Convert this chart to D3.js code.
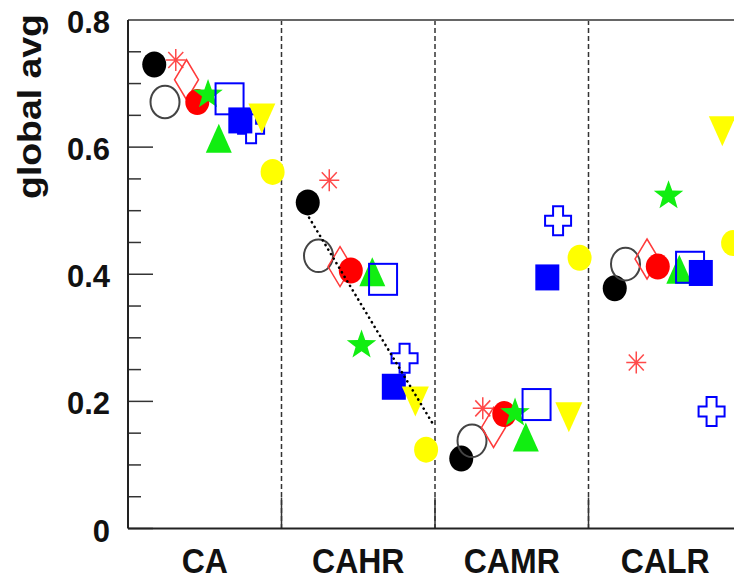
<!DOCTYPE html>
<html><head><meta charset="utf-8">
<script src="https://cdn.jsdelivr.net/npm/d3@7"></script>
<style>
body{margin:0;background:#fff}
svg{display:block}
text{font-family:"Liberation Sans",Arial,sans-serif;font-weight:bold;fill:#111}
</style>
</head><body>
<svg id="chart" width="734" height="576"></svg>
<script>
// ---- data ----
const categories = ["CA", "CAHR", "CAMR", "CALR"];
const yTickValues = [0, 0.2, 0.4, 0.6, 0.8];
const yTickLabels = ["0", "0.2", "0.4", "0.6", "0.8"];
const yMinorTicks = [0.05, 0.1, 0.15, 0.25, 0.3, 0.35, 0.45, 0.5, 0.55, 0.65, 0.7, 0.75];
const yAxisTitle = "global avg";

const seriesNames = ["s1", "s2", "s3", "s4", "s5", "s6", "s7", "s8", "s9", "s10", "s11", "s12"];
const s1  = [0.730, 0.513, 0.110, 0.378]; // black filled circle
const s2  = [0.671, 0.429, 0.138, 0.416]; // open circle
const s3  = [0.737, 0.548, 0.189, 0.261]; // red asterisk
const s4  = [0.706, 0.412, 0.159, 0.424]; // red open diamond
const s5  = [0.671, 0.406, 0.180, 0.412]; // red filled circle
const s6  = [0.685, 0.291, 0.184, 0.526]; // green star
const s7  = [0.614, 0.404, 0.144, 0.408]; // green triangle up
const s8  = [0.676, 0.392, 0.195, 0.411]; // blue open square
const s9  = [0.642, 0.223, 0.395, 0.402]; // blue filled square
const s10 = [0.629, 0.268, 0.484, 0.184]; // blue open cross
const s11 = [0.645, 0.200, 0.175, 0.625]; // yellow triangle down
const s12 = [0.561, 0.124, 0.426, 0.449]; // yellow filled circle
const seriesValues = [s1, s2, s3, s4, s5, s6, s7, s8, s9, s10, s11, s12];

// dotted trend line (category-axis units, value)
const trendX = [1.18, 1.98];
const trendY = [0.489, 0.167];

// ---- styles ----
const seriesStyle = {
  s1:  {shape: "fcircle", color: "#000000"},
  s2:  {shape: "ocircle", color: "#444444"},
  s3:  {shape: "asterisk", color: "#ff4a4a"},
  s4:  {shape: "diamond", color: "#ff3a3a"},
  s5:  {shape: "fcircle", color: "#ff0000"},
  s6:  {shape: "star", color: "#11ee11"},
  s7:  {shape: "triUp", color: "#11ee11"},
  s8:  {shape: "osquare", color: "#0000ff"},
  s9:  {shape: "fsquare", color: "#0000ff"},
  s10: {shape: "cross", color: "#0000ff"},
  s11: {shape: "triDown", color: "#ffff00"},
  s12: {shape: "fcircle", color: "#ffff00"}
};

// ---- scales ----
const svg = d3.select("#chart");
const mLeft = 128, mTop = 20, mBottom = 528.5, mRight = 742;
const x = d3.scaleLinear().domain([0, categories.length]).range([mLeft, mRight]);
const y = d3.scaleLinear().domain([0, 0.8]).range([mBottom, mTop]);
const step = x(1) - x(0);
const inner = d3.scalePoint().domain(seriesNames).range([0.171 * step, 0.942 * step]);

// ---- frame, separators ----
const frame = svg.append("g");
frame.selectAll("line.sep").data(d3.range(1, categories.length)).join("line")
  .attr("class", "sep")
  .attr("x1", d => x(d)).attr("x2", d => x(d))
  .attr("y1", mTop).attr("y2", mBottom)
  .attr("stroke", "#333").attr("stroke-width", 1.5).attr("stroke-dasharray", "5,3");
frame.selectAll("line.bt").data(d3.range(1, categories.length)).join("line")
  .attr("class", "bt")
  .attr("x1", d => x(d)).attr("x2", d => x(d))
  .attr("y1", mBottom).attr("y2", mBottom - 31)
  .attr("stroke", "#333").attr("stroke-width", 1.5);
frame.selectAll("line.ymaj").data(yTickValues).join("line")
  .attr("class", "ymaj")
  .attr("x1", mLeft).attr("x2", mLeft + 25)
  .attr("y1", d => y(d)).attr("y2", d => y(d))
  .attr("stroke", "#333").attr("stroke-width", 1.5);
frame.selectAll("line.ymin").data(yMinorTicks).join("line")
  .attr("class", "ymin")
  .attr("x1", mLeft).attr("x2", mLeft + 13)
  .attr("y1", d => y(d)).attr("y2", d => y(d))
  .attr("stroke", "#333").attr("stroke-width", 1.5);
frame.append("line").attr("x1", mLeft).attr("x2", mRight).attr("y1", mTop).attr("y2", mTop)
  .attr("stroke", "#666").attr("stroke-width", 2);
frame.append("line").attr("x1", mLeft).attr("x2", mRight).attr("y1", mBottom).attr("y2", mBottom)
  .attr("stroke", "#222").attr("stroke-width", 2);
frame.append("line").attr("x1", mLeft).attr("x2", mLeft).attr("y1", mTop).attr("y2", mBottom)
  .attr("stroke", "#222").attr("stroke-width", 2);

// ---- tick labels ----
svg.selectAll("text.yl").data(yTickValues).join("text")
  .attr("class", "yl")
  .attr("transform", d => `translate(110,${y(d) + 13}) scale(1,1.03)`)
  .attr("text-anchor", "end").attr("font-size", 31)
  .text((d, i) => yTickLabels[i]);
svg.selectAll("text.xl").data(categories).join("text")
  .attr("class", "xl")
  .attr("transform", (d, i) => `translate(${x(i + 0.5)},572.5) scale(1,1.08)`)
  .attr("text-anchor", "middle").attr("font-size", 32)
  .text(d => d);
svg.append("text")
  .attr("transform", "translate(41,106.5) rotate(-90) scale(1.1,1)")
  .attr("text-anchor", "middle").attr("font-size", 34)
  .text(yAxisTitle);

// ---- markers ----
function starPath(R, r) {
  const p = d3.path();
  for (let k = 0; k < 10; k++) {
    const a = -Math.PI / 2 + k * Math.PI / 5;
    const rad = k % 2 === 0 ? R : r;
    const px = rad * Math.cos(a), py = rad * Math.sin(a) + 1.5;
    if (k === 0) p.moveTo(px, py); else p.lineTo(px, py);
  }
  p.closePath();
  return p.toString();
}
function drawMarker(g, shape, color) {
  switch (shape) {
    case "fcircle":
      g.append("ellipse").attr("rx", 12).attr("ry", 13).attr("fill", color); break;
    case "ocircle":
      g.append("ellipse").attr("rx", 14.5).attr("ry", 16.3).attr("fill", "none")
        .attr("stroke", color).attr("stroke-width", 2); break;
    case "asterisk":
      g.append("path").attr("d", "M-10,0H10M0,-11V11M-7.5,-8L7.5,8M-7.5,8L7.5,-8")
        .attr("fill", "none").attr("stroke", color).attr("stroke-width", 1.5); break;
    case "diamond":
      g.append("path").attr("d", "M0,-20L12,0L0,20L-12,0Z").attr("fill", "none")
        .attr("stroke", color).attr("stroke-width", 1.5); break;
    case "star":
      g.append("path").attr("d", starPath(15.5, 6.3)).attr("fill", color); break;
    case "triUp":
      g.append("path").attr("d", "M0,-14.5L13,14.5L-13,14.5Z").attr("fill", color); break;
    case "triDown":
      g.append("path").attr("d", "M-13.5,-15L13.5,-15L0,15Z").attr("fill", color); break;
    case "osquare":
      g.append("rect").attr("x", -14).attr("y", -15.5).attr("width", 28).attr("height", 31)
        .attr("fill", "none").attr("stroke", color).attr("stroke-width", 2); break;
    case "fsquare":
      g.append("rect").attr("x", -12).attr("y", -13).attr("width", 24).attr("height", 26)
        .attr("fill", color); break;
    case "cross":
      g.append("path").attr("d", "M-5,-14.5H5V-5H13V5H5V14.5H-5V5H-13V-5H-5Z")
        .attr("fill", "none").attr("stroke", color).attr("stroke-width", 2); break;
  }
}

const markers = svg.append("g");
seriesNames.forEach((name, si) => {
  const st = seriesStyle[name];
  seriesValues[si].forEach((v, ci) => {
    const g = markers.append("g")
      .attr("transform", `translate(${x(ci) + inner(name)},${y(v)})`);
    drawMarker(g, st.shape, st.color);
  });
});

// ---- dotted trend line ----
const trend = trendX.map((tx, i) => [tx, trendY[i]]);
svg.append("path")
  .attr("d", d3.line().x(d => x(d[0])).y(d => y(d[1]))(trend))
  .attr("fill", "none").attr("stroke", "#000").attr("stroke-width", 2.6)
  .attr("stroke-linecap", "round").attr("stroke-dasharray", "0.1,5.2");
</script>
</body></html>
